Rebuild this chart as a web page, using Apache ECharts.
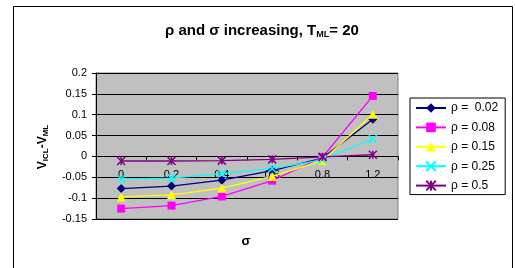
<!DOCTYPE html>
<html>
<head>
<meta charset="utf-8">
<script src="https://cdn.jsdelivr.net/npm/echarts@6/dist/echarts.min.js"></script>
<style>
  html, body { margin: 0; padding: 0; background: #fff; }
  #chart { width: 515px; height: 268px; }
</style>
</head>
<body>
<div id="chart"></div>
<script>
// sigma 取值（类目轴）
var sigmaLabels = ["0", "0.2", "0.4", "0.6", "0.8", "1.2"];
// 各 rho 对应的 V_ICL - V_ML
var rho002 = [-0.077, -0.071, -0.057, -0.034, -0.004, 0.089];
var rho008 = [-0.125, -0.118, -0.096, -0.058, -0.002, 0.145];
var rho015 = [-0.097, -0.092, -0.076, -0.048, -0.010, 0.101];
var rho025 = [-0.054, -0.052, -0.041, -0.029, -0.008, 0.042];
var rho05  = [-0.011, -0.011, -0.010, -0.007, -0.001, 0.004];
var seriesNames = ["ρ =  0.02", "ρ = 0.08", "ρ = 0.15", "ρ = 0.25", "ρ = 0.5"];

window.addEventListener("load", function () {
  var myChart = echarts.init(document.getElementById("chart"));

  var crossPath = "path://M0,0L10,10M10,0L0,10";
  var starPath = "path://M0,0L10,10M10,0L0,10M5,0L5,10";

  function makeLine(name, data, color, symbol, size, stroke) {
    return {
      name: name,
      type: "line",
      data: data,
      symbol: symbol,
      symbolSize: size,
      showAllSymbol: true,
      lineStyle: { color: color, width: 1.3 },
      itemStyle: stroke
        ? { color: color, borderColor: color, borderWidth: 1.5 }
        : { color: color },
      z: 3
    };
  }

  var option = {
    animation: false,
    backgroundColor: "#ffffff",
    textStyle: { fontFamily: "Liberation Sans, Arial, sans-serif" },
    title: {
      text: "{b|ρ and σ increasing, T}{s|ML}{b|= 20}",
      left: 165,
      top: 23,
      padding: 0,
      textStyle: {
        rich: {
          b: { fontSize: 15, fontWeight: "bold", color: "#000", fontFamily: "Liberation Sans" },
          s: { fontSize: 9, fontWeight: "bold", color: "#000", fontFamily: "Liberation Sans", padding: [7, 0, 0, 0] }
        }
      }
    },
    legend: {
      orient: "vertical",
      left: 410,
      top: 98,
      padding: [4, 7, 3, 5],
      itemWidth: 30,
      itemHeight: 12,
      itemGap: 7.4,
      backgroundColor: "#fff",
      borderColor: "#000",
      borderWidth: 1,
      borderRadius: 0,
      textStyle: { fontSize: 12, color: "#000", fontFamily: "Liberation Sans" },
      data: seriesNames
    },
    grid: {
      left: 96,
      top: 73,
      right: 117,
      bottom: 49,
      show: true,
      backgroundColor: "#c0c0c0",
      borderColor: "#808080",
      borderWidth: 1
    },
    xAxis: {
      type: "category",
      data: sigmaLabels,
      boundaryGap: true,
      // 轴放在 0 处（网格高 146，0 距底部 62.6）
      offset: -62.6,
      axisLine: { onZero: false, lineStyle: { color: "#000", width: 1 } },
      axisTick: { show: true, length: 4, lineStyle: { color: "#000" } },
      axisLabel: { color: "#000", fontSize: 11, margin: 13, fontFamily: "Liberation Sans" },
      splitLine: { show: false },
      z: 1
    },
    yAxis: {
      type: "value",
      min: -0.15,
      max: 0.2,
      interval: 0.05,
      axisLine: { show: true, lineStyle: { color: "#000" } },
      axisTick: { show: true, length: 4, lineStyle: { color: "#000" } },
      axisLabel: {
        color: "#000",
        fontSize: 11,
        margin: 9,
        fontFamily: "Liberation Sans",
        formatter: function (v) { return String(+v.toFixed(2)); }
      },
      splitLine: { show: true, lineStyle: { color: "#000", width: 1 } }
    },
    graphic: [
      {
        type: "rect",
        shape: { x: 13.5, y: 6.5, width: 499, height: 280 },
        style: { fill: "none", stroke: "#000", lineWidth: 1 },
        silent: true,
        z: -1
      },
      {
        type: "text",
        x: 43,
        y: 147,
        rotation: Math.PI / 2,
        style: {
          text: "{b|V}{s|ICL}{b|-V}{s|ML}",
          align: "center",
          verticalAlign: "middle",
          rich: {
            b: { fontSize: 12, fontWeight: "bold", fill: "#000", fontFamily: "Liberation Sans" },
            s: { fontSize: 8, fontWeight: "bold", fill: "#000", fontFamily: "Liberation Sans", padding: [5, 0, 0, 0] }
          }
        }
      },
      {
        type: "text",
        x: 246,
        y: 241,
        style: {
          text: "σ",
          align: "center",
          verticalAlign: "middle",
          fontSize: 13,
          fontWeight: "bold",
          fill: "#000",
          fontFamily: "Liberation Sans"
        }
      }
    ],
    series: [
      makeLine(seriesNames[0], rho002, "#000080", "diamond", 9, false),
      makeLine(seriesNames[1], rho008, "#ff00ff", "rect", 8, false),
      makeLine(seriesNames[2], rho015, "#ffff00", "triangle", 9, false),
      makeLine(seriesNames[3], rho025, "#00ffff", crossPath, 8, true),
      makeLine(seriesNames[4], rho05, "#800080", starPath, 8, true)
    ]
  };

  myChart.setOption(option);
  window.addEventListener("resize", function () { myChart.resize(); });
});
</script>
</body>
</html>
